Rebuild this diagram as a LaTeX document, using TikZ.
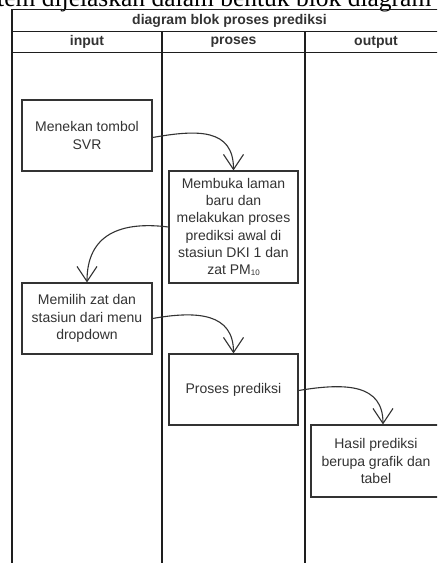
\documentclass[tikz,border=0pt]{standalone}
\usepackage{fontspec}
\setmainfont{Liberation Sans}
\newfontfamily\bodyserif{Liberation Serif}
\usetikzlibrary{arrows.meta}
\definecolor{inkline}{HTML}{1E1E1E}
\definecolor{boxline}{HTML}{333333}
\definecolor{boxtext}{HTML}{333333}
\tikzset{
  laneline/.style={draw=inkline, line width=1.3pt},
  stepbox/.style={draw=boxline, line width=1.2pt, fill=white, inner sep=0pt,
    minimum width=130pt, align=center, text=boxtext,
    font=\fontsize{14}{17.2}\selectfont},
  flow/.style={draw=boxline, line width=1.1pt,
    -{Straight Barb[length=15pt,width=20pt,line width=1.1pt]}},
  headtext/.style={font=\bfseries\fontsize{14}{16}\selectfont, text=boxtext, inner sep=0pt},
}
\begin{document}
\begin{tikzpicture}[x=1pt,y=-1pt]
  \useasboundingbox (0,0) rectangle (437,563);
  \clip (0,0) rectangle (437,563);
  \fill[white] (0,0) rectangle (437,563);

  % line of body text just above the diagram
  \node[anchor=base west, inner sep=0pt, font=\bodyserif\fontsize{25.5}{28}\selectfont]
    (caption) at (-3,6.5) {tem dijelaskan dalam bentuk blok diagram};

  % swimlane table
  \coordinate (tl) at (12,9.5);
  \coordinate (tr) at (447,9.5);
  \draw[laneline] (12,563) -- (tl) -- (tr) -- (447,563);
  \draw[laneline] (12,31.5) -- (447,31.5);
  \draw[laneline] (12,52.5) -- (447,52.5);
  \draw[laneline] (162,31.5) -- (162,563);
  \draw[laneline] (305,31.5) -- (305,563);

  \node[headtext] (title) at (229.5,21) {diagram blok proses prediksi};
  \node[headtext] (hin) at (87,42) {input};
  \node[headtext] (hpro) at (233.5,42) {proses};
  \node[headtext] (hout) at (376,42) {output};

  % process steps
  \node[stepbox, minimum height=71pt] (b1) at (87,135.5) {Menekan tombol\\SVR};
  \node[stepbox, minimum width=129pt, minimum height=112pt] (b2) at (233.5,227)
    {Membuka laman\\baru dan\\melakukan proses\\prediksi awal di\\stasiun DKI 1 dan\\zat PM\raisebox{-1pt}{\fontsize{8}{8}\selectfont 10}};
  \node[stepbox, minimum height=71pt] (b3) at (87,318.5) {Memilih zat dan\\stasiun dari menu\\dropdown};
  \node[stepbox, minimum width=129pt, minimum height=71pt] (b4) at (233.5,389.5) {Proses prediksi};
  \node[stepbox, minimum height=72pt] (b5) at (376,461) {Hasil prediksi\\berupa grafik dan\\tabel};

  % connectors
  \draw[flow] ([yshift=-2pt]b1.east) .. controls +(45,-8) and +(0,-42) .. (b2.north);
  \draw[flow] (b2.west) .. controls +(-48,-6) and +(0,-48) .. (b3.north);
  \draw[flow] (b3.east) .. controls +(45,-8) and +(0,-40) .. (b4.north);
  \draw[flow] ([yshift=-1pt]b4.east) .. controls +(48,-8) and +(0,-40) .. ([xshift=7pt]b5.north);
\end{tikzpicture}
\end{document}
